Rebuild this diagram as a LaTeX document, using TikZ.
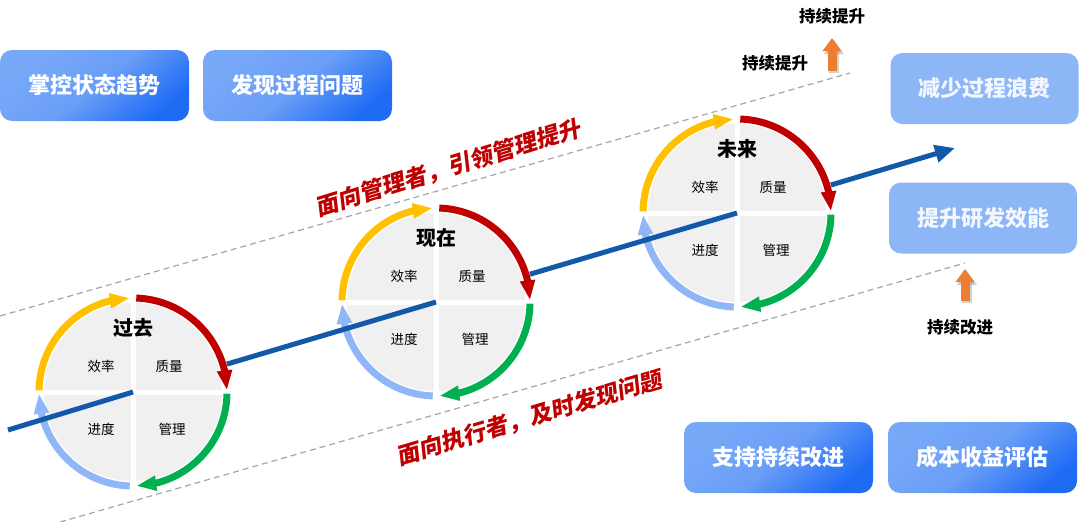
\documentclass[tikz,border=0pt]{standalone}
\usepackage{fontspec}
\setmainfont{Noto Sans CJK SC}
\newfontfamily\slantfont{Noto Sans CJK SC}[FakeSlant=0.18]
\usetikzlibrary{arrows.meta,bending}
\definecolor{ringyellow}{HTML}{FFC000}
\definecolor{ringred}{HTML}{C00000}
\definecolor{ringgreen}{HTML}{00B050}
\definecolor{ringblue}{HTML}{8FB6F6}
\definecolor{flowblue}{HTML}{1259A8}
\definecolor{wheelgray}{HTML}{F0F0F0}
\definecolor{btnlight}{HTML}{78A9F8}
\definecolor{btnmid}{HTML}{6A9EF7}
\definecolor{btndark}{HTML}{1F6CF4}
\definecolor{btnpale}{HTML}{8DB6F7}
\definecolor{txtred}{HTML}{C00000}
\definecolor{upgo}{HTML}{ED7D31}
\definecolor{dashgray}{HTML}{A6A6A6}
\tikzset{
  wheel/.style={circle,fill=wheelgray,minimum size=178pt,inner sep=0pt,outer sep=9pt},
  ringarc/.style={line width=7pt,-{Triangle[length=20pt,width=14pt,flex]}},
  crossgap/.style={white,line width=5pt},
  wheeltitle/.style={font=\bfseries\fontsize{20}{24}\selectfont,inner sep=0pt},
  quadlabel/.style={font=\fontsize{13.5}{16}\selectfont,inner sep=0pt},
  flow/.style={flowblue,line width=5pt},
  dashline/.style={dashgray,line width=1.2pt,dash pattern=on 6pt off 4pt},
  btn/.style={rounded corners=12pt,minimum width=189pt,minimum height=71pt,inner sep=0pt,
    text=white,font=\bfseries\fontsize{22}{26}\selectfont,
    top color=btnlight,bottom color=btndark,middle color=btnmid,shading angle=40},
  palebtn/.style={rounded corners=12pt,minimum width=188pt,minimum height=71pt,inner sep=0pt,
    fill=btnpale,text=white!90!btnpale,font=\bfseries\fontsize{22}{26}\selectfont},
  redtext/.style={text=txtred,font=\slantfont\bfseries\fontsize{23}{26}\selectfont,inner sep=0pt},
  uplabel/.style={font=\bfseries\fontsize{16.5}{20}\selectfont,inner sep=0pt},
  upshaft/.style={upgo,line width=9pt,-{Triangle[length=13pt,width=18pt]}},
  upshadow/.style={black,opacity=0.18,line width=10pt,-{Triangle[length=14pt,width=19pt]}}
}
\newcommand\cyclewheel[3]{%
  \node[wheel] (#1) at (#2) {};
  \draw[crossgap] ([yshift=90pt]#1.center) -- ([yshift=-90pt]#1.center);
  \draw[crossgap] ([xshift=-90pt]#1.center) -- ([xshift=90pt]#1.center);
  \draw[ringarc,ringyellow] ([shift={(179:94pt)}]#1.center) arc[start angle=179,end angle=92,radius=94pt];
  \draw[ringarc,ringred] ([shift={(88:94pt)}]#1.center) arc[start angle=88,end angle=1,radius=94pt];
  \draw[ringarc,ringgreen] ([shift={(-1:94pt)}]#1.center) arc[start angle=-1,end angle=-88,radius=94pt];
  \draw[ringarc,ringblue] ([shift={(-92:94pt)}]#1.center) arc[start angle=-92,end angle=-179,radius=94pt];
  \node[wheeltitle] (#1-t) at ([yshift=64pt]#1.center) {#3};
  \node[quadlabel] (#1-a) at ([shift={(-32pt,26pt)}]#1.center) {效率};
  \node[quadlabel] (#1-b) at ([shift={(36pt,26pt)}]#1.center) {质量};
  \node[quadlabel] (#1-c) at ([shift={(-32pt,-37pt)}]#1.center) {进度};
  \node[quadlabel] (#1-d) at ([shift={(39pt,-37pt)}]#1.center) {管理};
}
\begin{document}
\begin{tikzpicture}[x=1pt,y=1pt]
\useasboundingbox (0,0) rectangle (1080,-522);
\fill[white] (0,0) rectangle (1080,-522);
% dashed guide lines
\coordinate (d1s) at (0,-316);
\coordinate (d1e) at (850,-73);
\coordinate (d2s) at (60,-522);
\coordinate (d2e) at (965,-263);
\draw[dashline] (d1s) -- (d1e);
\draw[dashline] (d2s) -- (d2e);
% wheels
\cyclewheel{c1}{133,-392}{过去}
\cyclewheel{c2}{436,-302}{现在}
\cyclewheel{c3}{737,-213}{未来}
% flow line
\coordinate (ls) at (8,-430);
\coordinate (le) at (955,-148);
\draw[flow] (ls) -- (c1.center);
\draw[flow] (c1) -- (c2.center);
\draw[flow] (c2) -- (c3.center);
\draw[flow,-{Triangle[length=20pt,width=17pt]}] (c3) -- (le);
% red slanted texts
\node[redtext,rotate=17] (r1) at (448,-168) {面向管理者，引领管理提升};
\node[redtext,rotate=16.5] (r2) at (529,-418) {面向执行者，及时发现问题};
% buttons
\node[btn] (b1) at (94.5,-85.5) {掌控状态趋势};
\node[btn] (b2) at (297.5,-85.5) {发现过程问题};
\node[btn] (b3) at (778.5,-457.5) {支持持续改进};
\node[btn] (b4) at (982.5,-457.5) {成本收益评估};
\node[palebtn] (p1) at (984.5,-88.5) {减少过程浪费};
\node[palebtn] (p2) at (983,-218) {提升研发效能};
% orange up arrows
\coordinate (u1s) at (832,-71);
\coordinate (u1e) at (832,-38);
\coordinate (u2s) at (965,-301);
\coordinate (u2e) at (965,-269);
\draw[upshadow] ([shift={(2pt,-2pt)}]u1s) -- ([shift={(2pt,-2pt)}]u1e);
\draw[upshadow] ([shift={(2pt,-2pt)}]u2s) -- ([shift={(2pt,-2pt)}]u2e);
\draw[upshaft] (u1s) -- (u1e);
\draw[upshaft] (u2s) -- (u2e);
\node[uplabel] (l1) at (832,-16) {持续提升};
\node[uplabel] (l2) at (775,-63) {持续提升};
\node[uplabel] (l3) at (960,-327) {持续改进};
\end{tikzpicture}
\end{document}
